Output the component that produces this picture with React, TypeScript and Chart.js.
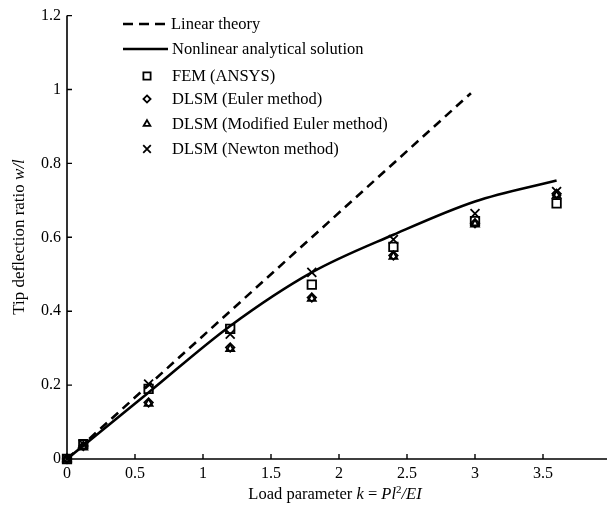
import React, { useEffect, useRef } from 'react';
import { Chart, registerables } from 'chart.js';

Chart.register(...registerables);

// ---- data ----
const kExperiment = [0, 0.12, 0.6, 1.2, 1.8, 2.4, 3.0, 3.6];
const femValues = [0, 0.04, 0.19, 0.352, 0.472, 0.574, 0.644, 0.692];
const eulerValues = [0, 0.035, 0.153, 0.302, 0.437, 0.551, 0.638, 0.718];
const modEulerValues = [0, 0.032, 0.15, 0.298, 0.434, 0.548, 0.635, 0.713];
const newtonValues = [0, 0.04, 0.203, 0.338, 0.505, 0.594, 0.664, 0.724];

const kLinear = [0, 2.97];
const linearValues = [0, 0.99];

const kNonlinear = [0, 0.6, 1.2, 1.8, 2.4, 3.0, 3.6];
const nonlinearValues = [0, 0.18, 0.36, 0.505, 0.607, 0.697, 0.754];

const xTickLabels = ['0', '0.5', '1', '1.5', '2', '2.5', '3', '3.5', '4'];
const yTickLabels = ['0', '0.2', '0.4', '0.6', '0.8', '1', '1.2'];

const seriesNames = [
  'Linear theory',
  'Nonlinear analytical solution',
  'FEM (ANSYS)',
  'DLSM (Euler method)',
  'DLSM (Modified Euler method)',
  'DLSM (Newton method)',
];

const FONT = '"Liberation Serif", "Times New Roman", serif';
const markerStyles = ['rect', 'rectRot', 'triangle', 'crossRot'];
const markerRadii = [6, 4.2, 4.6, 6.3];

function toPoints(xs: number[], ys: number[]) {
  return xs.map((x, i) => ({ x, y: ys[i] }));
}

function drawMarker(ctx: CanvasRenderingContext2D, style: string, x: number, y: number, r: number) {
  ctx.beginPath();
  if (style === 'rect') {
    const s = r * Math.SQRT1_2;
    ctx.rect(x - s, y - s, 2 * s, 2 * s);
  } else if (style === 'rectRot') {
    ctx.moveTo(x, y - r);
    ctx.lineTo(x + r, y);
    ctx.lineTo(x, y + r);
    ctx.lineTo(x - r, y);
    ctx.closePath();
  } else if (style === 'triangle') {
    let a = 0;
    ctx.moveTo(x + Math.sin(a) * r, y - Math.cos(a) * r);
    a += (2 * Math.PI) / 3;
    ctx.lineTo(x + Math.sin(a) * r, y - Math.cos(a) * r);
    a += (2 * Math.PI) / 3;
    ctx.lineTo(x + Math.sin(a) * r, y - Math.cos(a) * r);
    ctx.closePath();
  } else {
    const o = r * Math.SQRT1_2;
    ctx.moveTo(x - o, y - o);
    ctx.lineTo(x + o, y + o);
    ctx.moveTo(x + o, y - o);
    ctx.lineTo(x - o, y + o);
  }
  ctx.stroke();
}

type Piece = { t: string; italic?: boolean; sup?: boolean };

function drawPieces(ctx: CanvasRenderingContext2D, pieces: Piece[], cx: number, cy: number, size: number) {
  const fontFor = (p: Piece) => `${p.italic ? 'italic ' : ''}${p.sup ? Math.round(size * 0.65) : size}px ${FONT}`;
  let total = 0;
  const widths = pieces.map((p) => {
    ctx.font = fontFor(p);
    const w = ctx.measureText(p.t).width;
    total += w;
    return w;
  });
  let x = cx - total / 2;
  ctx.textBaseline = 'middle';
  ctx.textAlign = 'left';
  pieces.forEach((p, i) => {
    ctx.font = fontFor(p);
    ctx.fillText(p.t, x, p.sup ? cy - size * 0.3 : cy);
    x += widths[i];
  });
}

const overlayPlugin = {
  id: 'overlay',
  afterDraw(chart: any) {
    const ctx: CanvasRenderingContext2D = chart.ctx;
    const { left, right, top, bottom } = chart.chartArea;
    const xs = chart.scales.x;
    const ys = chart.scales.y;
    ctx.save();
    ctx.strokeStyle = '#000';
    ctx.fillStyle = '#000';
    // axes
    ctx.lineWidth = 1.6;
    ctx.beginPath();
    ctx.moveTo(left, top);
    ctx.lineTo(left, bottom);
    ctx.lineTo(right + 10, bottom);
    ctx.stroke();
    // inward tick marks
    ctx.lineWidth = 1.4;
    ctx.beginPath();
    xs.ticks.forEach((t: any) => {
      const px = xs.getPixelForValue(t.value);
      ctx.moveTo(px, bottom);
      ctx.lineTo(px, bottom - 5);
    });
    ys.ticks.forEach((t: any) => {
      const py = ys.getPixelForValue(t.value);
      ctx.moveTo(left, py);
      ctx.lineTo(left + 5, py);
    });
    ctx.stroke();

    // legend
    ctx.lineWidth = 2.6;
    ctx.setLineDash([10, 6]);
    ctx.beginPath();
    ctx.moveTo(123, 24);
    ctx.lineTo(169, 24);
    ctx.stroke();
    ctx.setLineDash([]);
    ctx.beginPath();
    ctx.moveTo(123, 49);
    ctx.lineTo(168, 49);
    ctx.stroke();
    ctx.font = `16.5px ${FONT}`;
    ctx.textBaseline = 'middle';
    ctx.textAlign = 'left';
    ctx.fillText(seriesNames[0], 171, 25);
    ctx.fillText(seriesNames[1], 172, 50);
    const rowY = [76, 99, 124, 149];
    ctx.lineWidth = 1.8;
    for (let i = 0; i < 4; i++) {
      drawMarker(ctx, markerStyles[i], 147, rowY[i], markerRadii[i] * 0.85);
      ctx.fillText(seriesNames[2 + i], 172, rowY[i] + 1);
    }

    // axis titles
    drawPieces(
      ctx,
      [
        { t: 'Load parameter ' },
        { t: 'k', italic: true },
        { t: ' = ' },
        { t: 'Pl', italic: true },
        { t: '2', sup: true },
        { t: '/EI', italic: true },
      ],
      335,
      495,
      16.5
    );
    ctx.save();
    ctx.translate(20, 237);
    ctx.rotate(-Math.PI / 2);
    drawPieces(ctx, [{ t: 'Tip deflection ratio ' }, { t: 'w/l', italic: true }], 0, 0, 17);
    ctx.restore();
    ctx.restore();
  },
};

export default function App() {
  const canvasRef = useRef<HTMLCanvasElement | null>(null);

  useEffect(() => {
    if (!canvasRef.current) return;
    const markerDataset = (label: string, ys: number[], i: number) => ({
      label,
      data: toPoints(kExperiment, ys),
      showLine: false,
      pointStyle: markerStyles[i],
      pointRadius: markerRadii[i],
      pointBorderWidth: 1.8,
      pointBorderColor: '#000',
      pointBackgroundColor: 'rgba(0,0,0,0)',
      borderColor: '#000',
      clip: false as any,
      order: 0,
    });
    const chart = new Chart(canvasRef.current, {
      type: 'scatter',
      data: {
        datasets: [
          {
            label: seriesNames[0],
            data: toPoints(kLinear, linearValues),
            showLine: true,
            borderColor: '#000',
            borderWidth: 2.6,
            borderDash: [9, 6],
            pointRadius: 0,
            order: 2,
          },
          {
            label: seriesNames[1],
            data: toPoints(kNonlinear, nonlinearValues),
            showLine: true,
            borderColor: '#000',
            borderWidth: 2.6,
            cubicInterpolationMode: 'monotone',
            pointRadius: 0,
            order: 1,
          },
          markerDataset(seriesNames[2], femValues, 0),
          markerDataset(seriesNames[3], eulerValues, 1),
          markerDataset(seriesNames[4], modEulerValues, 2),
          markerDataset(seriesNames[5], newtonValues, 3),
        ] as any,
      },
      options: {
        responsive: false,
        animation: false,
        devicePixelRatio: 1,
        layout: { padding: { left: 0, top: 14, right: 9, bottom: 0 } },
        plugins: {
          legend: { display: false },
          tooltip: { enabled: false },
        },
        scales: {
          x: {
            type: 'linear',
            min: 0,
            max: 4,
            grid: { display: false, drawTicks: false },
            border: { display: false },
            ticks: {
              stepSize: 0.5,
              padding: 5,
              color: '#000',
              maxRotation: 0,
              autoSkip: false,
              font: { family: FONT, size: 16 },
              callback: (_v: any, i: number) => xTickLabels[i],
            },
            afterFit: (s: any) => {
              s.height = 49;
            },
          },
          y: {
            type: 'linear',
            min: 0,
            max: 1.2,
            grid: { display: false, drawTicks: false },
            border: { display: false },
            ticks: {
              stepSize: 0.2,
              padding: 6,
              color: '#000',
              autoSkip: false,
              font: { family: FONT, size: 16 },
              callback: (_v: any, i: number) => yTickLabels[i],
            },
            afterFit: (s: any) => {
              s.width = 67;
            },
          },
        },
      } as any,
      plugins: [overlayPlugin],
    });
    return () => chart.destroy();
  }, []);

  return (
    <div
      style={{
        position: 'fixed',
        left: 0,
        top: 0,
        width: 607,
        height: 508,
        overflow: 'hidden',
        background: '#fff',
      }}
    >
      <canvas ref={canvasRef} width={620} height={508} style={{ display: 'block' }} />
    </div>
  );
}
